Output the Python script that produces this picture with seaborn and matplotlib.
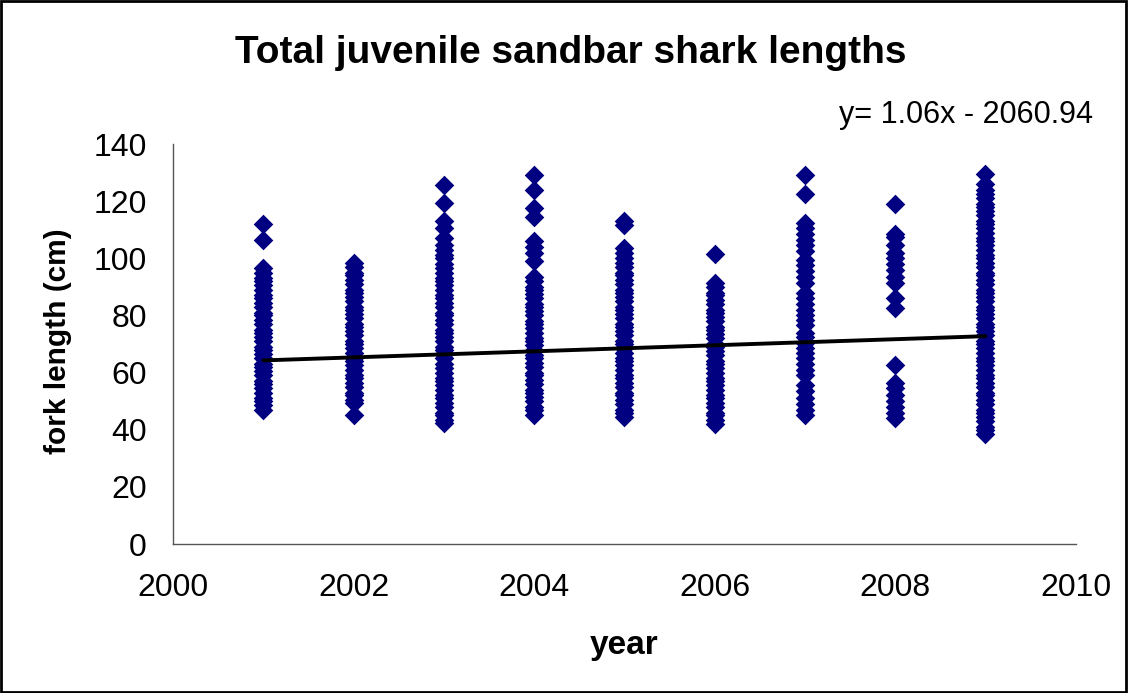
import pandas as pd
import matplotlib
matplotlib.use("Agg")
import matplotlib.pyplot as plt
import seaborn as sns
from matplotlib.patches import Rectangle

# fork lengths (cm), one list per year
len_2001 = [112, 106.5, 96.5, 95, 93, 92, 90.5, 89, 87, 86, 84.5, 83, 81, 80, 78.5, 77, 75, 74,
            72.5, 71, 69, 68, 66.5, 65, 63, 62, 60.5, 59, 57, 56, 54.5, 53, 51, 50, 48.5, 47]
len_2002 = [98.5, 97, 95, 94, 92.5, 91, 89, 88, 86.5, 85, 83, 82, 80.5, 79, 77, 76, 74.5, 73, 71,
            70, 68.5, 67, 65, 64, 62.5, 61, 59, 58, 56.5, 55, 53, 52, 50.5, 49.5, 45]
len_2003 = [125.5, 119.5, 113, 110.5, 107, 104.5, 103, 101, 100, 98, 96.5, 95, 93, 92, 90.5, 89,
            87, 86, 84.5, 83, 81, 80, 78.5, 77, 75, 74, 72.5, 71, 69, 68, 66.5, 65, 63, 61.5, 60,
            58, 57, 55.5, 54, 52, 51, 49.5, 48, 46, 45, 43.5, 42.5]
len_2004 = [129, 124, 117.5, 114.5, 106, 104, 102, 99, 93.5, 92, 90, 89, 87.5, 86, 84, 83, 81.5,
            80, 78, 77, 75.5, 74, 72, 71, 69.5, 68, 66, 65, 63.5, 62, 60, 59, 57.5, 56, 54, 53,
            51.5, 50, 48, 47, 45]
len_2005 = [113, 111.5, 103.5, 102, 100, 98.5, 97, 95, 94, 92.5, 91, 89, 88, 86.5, 85, 83, 82,
            80.5, 79, 77, 76, 74.5, 73, 71, 70, 68.5, 67, 65, 64, 62.5, 61, 59, 58, 56.5, 55, 53,
            52, 50.5, 49, 47, 46, 44.5]
len_2006 = [101.5, 91.5, 90, 88, 87, 85.5, 84, 82, 81, 79.5, 78, 76, 75, 73.5, 72, 70, 69, 67.5,
            66, 64, 63, 61.5, 60, 58, 57, 55.5, 54, 52, 51, 49.5, 48, 46, 45, 43.5, 42]
len_2007 = [129, 122.5, 112.5, 110.5, 108.5, 106.5, 104.5, 102.5, 99.5, 97.5, 95.5, 93.5, 91.5,
            88, 86, 84, 82, 80, 78.5, 76.5, 74, 72.5, 70.5, 68.5, 67, 65, 63, 61, 59, 55.5,
            53.5, 51, 49, 47, 45]
len_2008 = [119, 108.5, 107.5, 104.5, 102, 100, 98, 96, 93.5, 91.5, 86, 82.5, 62.5, 56.5, 54.5,
            52, 50, 48, 46, 44]
len_2009 = [129.5, 126, 124, 122.5, 121, 119, 118, 116.5, 115, 113, 112, 110.5, 109, 107, 106,
            104.5, 103, 101, 100, 98.5, 97, 95, 94, 92.5, 91, 89, 88, 86.5, 85, 83, 82, 80.5, 79,
            77, 76, 74.5, 73, 71, 70, 68.5, 67, 65, 64, 62.5, 61, 59, 58, 56.5, 55, 53, 52, 50.5,
            49, 47, 46, 44.5, 43, 41, 40, 38.5]

years = [2001, 2002, 2003, 2004, 2005, 2006, 2007, 2008, 2009]
lengths = [len_2001, len_2002, len_2003, len_2004, len_2005, len_2006, len_2007, len_2008, len_2009]

# trend line as drawn on the chart
trend_slope = 1.06
trend_intercept = -2056.8
trend_label = "y= 1.06x - 2060.94"

rows = []
for yr, vals in zip(years, lengths):
    for v in vals:
        rows.append({"year": yr, "length": v})
df = pd.DataFrame(rows)

sns.set_style("white", {"text.color": "black", "axes.labelcolor": "black",
                        "xtick.color": "black", "ytick.color": "black"})
plt.rcParams['font.family'] = ['Liberation Sans', 'DejaVu Sans']

fig = plt.figure(figsize=(11.28, 6.93), dpi=100)
ax = fig.add_axes([0.1535, 0.2150, 0.8001, 0.5772])

sns.scatterplot(data=df, x="year", y="length", marker="D", color="#000080",
                s=100, linewidth=0, ax=ax, zorder=2)

trend_x = [years[0], years[-1]]
trend_y = [trend_slope * x + trend_intercept for x in trend_x]
ax.plot(trend_x, trend_y, color="black", lw=2.8, zorder=3)

ax.set_xlim(2000, 2010)
ax.set_ylim(0, 140)
ax.set_xticks(range(2000, 2011, 2))
ax.set_yticks(range(0, 141, 20))
ax.tick_params(axis="both", direction="out", length=8, width=1, colors="#555555",
               labelsize=23, labelcolor="black")
ax.tick_params(axis="x", pad=13)
ax.tick_params(axis="y", pad=11)
for side in ["top", "right"]:
    ax.spines[side].set_visible(False)
for side in ["left", "bottom"]:
    ax.spines[side].set_color("#555555")
    ax.spines[side].set_linewidth(1)
ax.set_xlabel("")
ax.set_ylabel("")

fig.text(0.506, 0.9235, "Total juvenile sandbar shark lengths", ha="center", va="center",
         fontsize=28, fontweight="bold", color="black")
fig.text(0.969, 0.834, trend_label, ha="right", va="center", fontsize=22, color="black")
fig.text(0.553, 0.069, "year", ha="center", va="center", fontsize=24, fontweight="bold",
         color="black")
fig.text(0.0514, 0.507, "fork length (cm)", ha="center", va="center", rotation=90,
         fontsize=21.5, fontweight="bold", color="black")

fig.patches.append(Rectangle((0.001, 0.002), 0.997, 0.996, transform=fig.transFigure,
                             fill=False, edgecolor="black", lw=2))

fig.savefig("out.png", dpi=100)
